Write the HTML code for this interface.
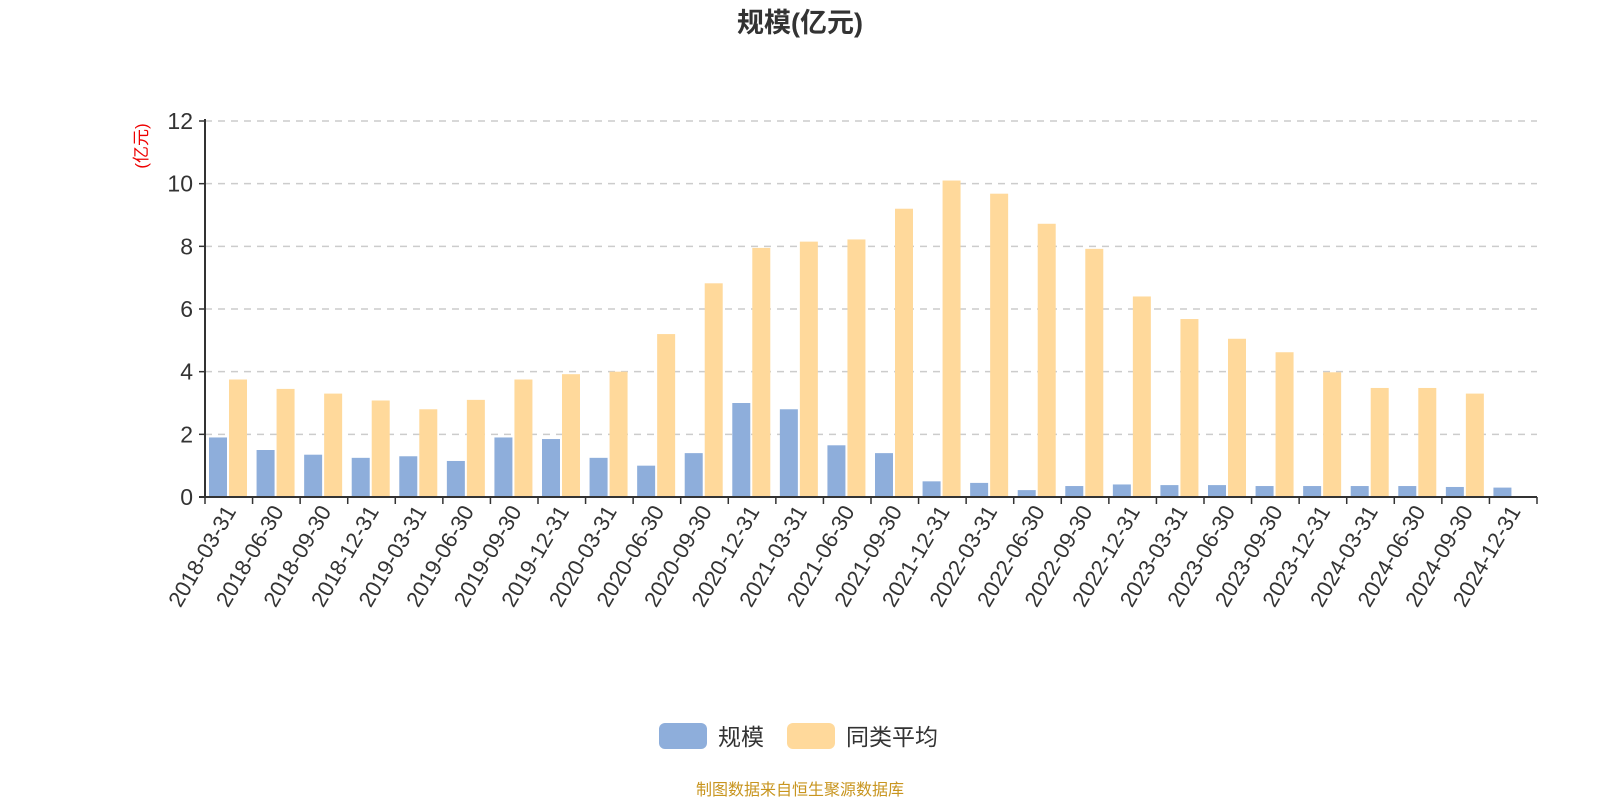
<!DOCTYPE html>
<html><head><meta charset="utf-8"><style>
html,body{margin:0;padding:0;background:#fff;}
svg{display:block;font-family:"Liberation Sans","Noto Sans CJK SC",sans-serif;}
</style></head><body>
<svg id="chart" width="1600" height="800">
<text x="800" y="32" text-anchor="middle" font-size="27" font-weight="bold" fill="#333">规模(亿元)</text>
<text transform="translate(147,146) rotate(-90)" text-anchor="middle" font-size="17" fill="#e00">(亿元)</text>
<g id="grid"></g><g id="bars"></g><g id="axes"></g>
<g>
<rect x="659" y="723" width="48" height="26" rx="6" fill="#8eaedb"/>
<text x="718" y="745" font-size="23" fill="#333">规模</text>
<rect x="787" y="723" width="48" height="26" rx="6" fill="#ffd99b"/>
<text x="846" y="745" font-size="23" fill="#333">同类平均</text>
</g>
<text x="800" y="795" text-anchor="middle" font-size="16" fill="#c8951f">制图数据来自恒生聚源数据库</text>
</svg>
<script>
const categories=["2018-03-31","2018-06-30","2018-09-30","2018-12-31","2019-03-31","2019-06-30","2019-09-30","2019-12-31","2020-03-31","2020-06-30","2020-09-30","2020-12-31","2021-03-31","2021-06-30","2021-09-30","2021-12-31","2022-03-31","2022-06-30","2022-09-30","2022-12-31","2023-03-31","2023-06-30","2023-09-30","2023-12-31","2024-03-31","2024-06-30","2024-09-30","2024-12-31"];
const scaleValues=[1.9,1.5,1.35,1.25,1.3,1.15,1.9,1.85,1.25,1.0,1.4,3.0,2.8,1.65,1.4,0.5,0.45,0.22,0.35,0.4,0.38,0.38,0.35,0.35,0.35,0.35,0.32,0.3];
const avgValues=[3.75,3.45,3.3,3.08,2.8,3.1,3.75,3.92,4.0,5.2,6.82,7.95,8.15,8.22,9.2,10.1,9.68,8.72,7.92,6.4,5.68,5.05,4.62,3.98,3.48,3.48,3.3,null];
const yTicks=[0,2,4,6,8,10,12];
const NS="http://www.w3.org/2000/svg";
const X0=205,X1=1537,Y0=497,Y1=121,YMAX=12;
const band=(X1-X0)/categories.length;
const y=v=>Y0-(v/YMAX)*(Y0-Y1);
function mk(tag,attrs,parent){const e=document.createElementNS(NS,tag);for(const k in attrs)e.setAttribute(k,attrs[k]);parent.appendChild(e);return e;}
const grid=document.getElementById('grid'),bars=document.getElementById('bars'),axes=document.getElementById('axes');
yTicks.forEach(t=>{
  if(t>0){const l=mk('line',{x1:X0,x2:X1,y1:y(t),y2:y(t),stroke:'#ccc','stroke-width':1.5,'stroke-dasharray':'7,6'},grid);
  
  }
  const tk=mk('line',{x1:X0-6,x2:X0,y1:y(t),y2:y(t),stroke:'#333','stroke-width':1.5},axes);
  
  
  const tx=mk('text',{x:X0-12,y:y(t)+8,'text-anchor':'end','font-size':23,fill:'#333'},axes);
  tx.textContent=t;
  
  
});
categories.forEach((c,i)=>{
  const bx=X0+i*band;
  const v1=scaleValues[i],v2=avgValues[i];
  if(v1!=null){const r=mk('rect',{x:bx+4,y:y(v1),width:18,height:Y0-y(v1),fill:'#8eaedb'},bars);
  
  }
  if(v2!=null){const r=mk('rect',{x:bx+24,y:y(v2),width:18,height:Y0-y(v2),fill:'#ffd99b'},bars);
  
  }
  const tk=mk('line',{x1:bx,x2:bx,y1:Y0,y2:Y0+7,stroke:'#333','stroke-width':1.5},axes);
  
  
  const cx=bx+band/2+8;
  const tx=mk('text',{transform:`translate(${cx},${Y0+14}) rotate(-60)`,'text-anchor':'end','font-size':22,fill:'#333'},axes);
  tx.textContent=c;
  
  
});
const lt=mk('line',{x1:X1,x2:X1,y1:Y0,y2:Y0+7,stroke:'#333','stroke-width':1.5},axes);


const ya=mk('line',{x1:X0,x2:X0,y1:Y1-2,y2:Y0,stroke:'#333','stroke-width':2},axes);


const xa=mk('line',{x1:X0-6,x2:X1,y1:Y0,y2:Y0,stroke:'#333','stroke-width':2},axes);


</script>
</body></html>
